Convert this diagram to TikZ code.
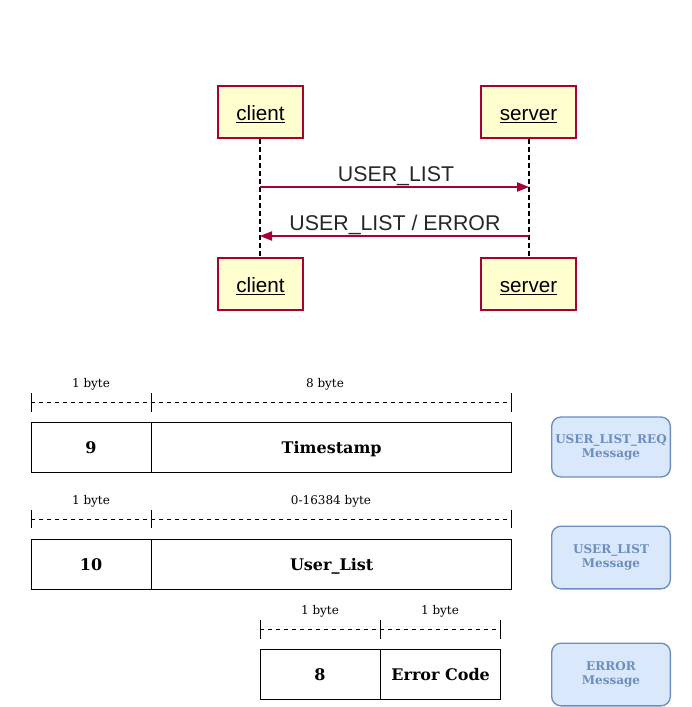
\documentclass[tikz,border=0pt]{standalone}
\usepackage{fontspec}
\setmainfont{DejaVu Serif}
\newfontfamily\seqfont{Liberation Sans}
\usetikzlibrary{arrows.meta,positioning}
\definecolor{umlred}{HTML}{A80036}
\definecolor{umlfill}{HTML}{FEFECE}
\definecolor{msgfill}{HTML}{DAE8FC}
\definecolor{msgline}{HTML}{6C8EBF}
\tikzset{
  actor/.style={draw=umlred, fill=umlfill, line width=0.9pt, minimum width=64pt, minimum height=39pt, inner sep=0pt, text height=12.5pt, text depth=0pt, font=\seqfont\fontsize{15.5}{17}\selectfont},
  lifeline/.style={dash pattern=on 4pt off 2pt, line width=0.8pt},
  msgarrow/.style={draw=umlred, line width=0.8pt, -{Triangle[length=9pt,width=7pt]}},
  msglabel/.style={font=\seqfont\fontsize{16}{18}\selectfont, text=black!85},
  cell/.style={draw, line width=0.5pt, minimum height=37.5pt, inner sep=0pt, text height=9pt, text depth=0pt, font=\bfseries\fontsize{12}{14}\selectfont},
  bytes/.style={font=\fontsize{9}{10}\selectfont},
  bracket/.style={dashed, line width=0.4pt},
  tick/.style={line width=0.5pt},
  msgbox/.style={draw=msgline, fill=msgfill, line width=1pt, rounded corners=7pt, minimum width=89pt, inner sep=0pt, align=center, text=msgline, font=\bfseries\fontsize{9}{10.5}\selectfont}
}
\begin{document}
\begin{tikzpicture}[x=0.75pt, y=-0.75pt]
  \useasboundingbox (0,0) rectangle (692,707);

  % sequence diagram
  \node[actor, minimum width=63.75pt] (clienttop) at (260.5,112) {\underline{client}};
  \node[actor, minimum width=71.25pt] (servertop) at (528.5,112) {\underline{server}};
  \node[actor, minimum width=63.75pt] (clientbot) at (260.5,284) {\underline{client}};
  \node[actor, minimum width=71.25pt] (serverbot) at (528.5,284) {\underline{server}};
  \draw[lifeline] (clienttop.south -| 260,0) -- (clientbot.north -| 260,0);
  \draw[lifeline] (servertop.south -| 529,0) -- (serverbot.north -| 529,0);

  \coordinate (reqstart) at (260,187);
  \coordinate (reqend) at (529,187);
  \coordinate (repstart) at (529,236);
  \coordinate (repend) at (260,236);
  \draw[msgarrow] (reqstart) -- (reqend);
  \draw[msgarrow] (repstart) -- (repend);
  \node[msglabel] (reqlabel) at (396,176.5) {USER\_LIST};
  \node[msglabel] (replabel) at (395,224.5) {USER\_LIST / ERROR};

  % USER_LIST_REQ
  \node[bytes] (reqsizeA) at (91,384) {1 byte};
  \node[bytes] (reqsizeB) at (325,384) {8 byte};
  \foreach \x in {31,151,511} \draw[tick] (\x,393) -- (\x,412);
  \draw[bracket] (31,402) -- (511,402);
  \node[cell, minimum width=90pt] (reqtype) at (91,447) {9};
  \node[cell, minimum width=270pt, right=0pt of reqtype] (reqtime) {Timestamp};

  % USER_LIST
  \node[bytes] (listsizeA) at (91,501) {1 byte};
  \node[bytes] (listsizeB) at (331,501) {0-16384 byte};
  \foreach \x in {31,151,511} \draw[tick] (\x,510) -- (\x,528);
  \draw[bracket] (31,519) -- (511,519);
  \node[cell, minimum width=90pt] (listtype) at (91,564) {10};
  \node[cell, minimum width=270pt, right=0pt of listtype] (listdata) {User\_List};

  % ERROR
  \node[bytes] (errsizeA) at (320,611) {1 byte};
  \node[bytes] (errsizeB) at (440,611) {1 byte};
  \foreach \x in {260,380,500} \draw[tick] (\x,620) -- (\x,639);
  \draw[bracket] (260,629) -- (500,629);
  \node[cell, minimum width=90pt] (errtype) at (320,674) {8};
  \node[cell, minimum width=90pt, right=0pt of errtype] (errcode) {Error Code};

  % message names
  \node[msgbox, minimum height=45pt] (reqmsg) at (611,447) {USER\_LIST\_REQ\\Message};
  \node[msgbox, minimum height=47pt] (listmsg) at (611,557.5) {USER\_LIST\\Message};
  \node[msgbox, minimum height=47pt] (errmsg) at (611,674.5) {ERROR\\Message};
\end{tikzpicture}
\end{document}
